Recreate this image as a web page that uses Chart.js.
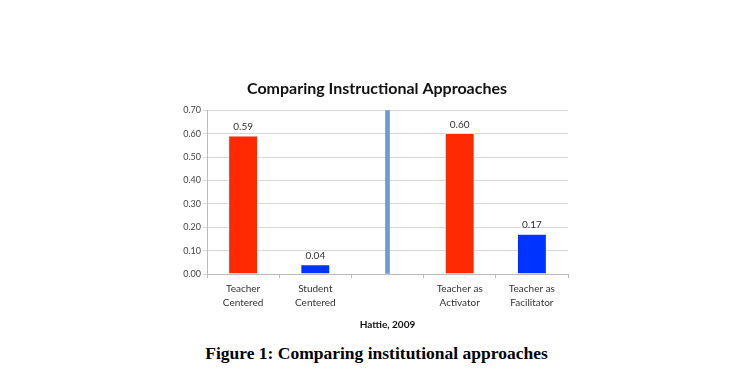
<!DOCTYPE html>
<html>
<head>
<meta charset="utf-8">
<script src="https://cdn.jsdelivr.net/npm/chart.js@4.4.0/dist/chart.umd.min.js"></script>
<style>
  html, body { margin: 0; padding: 0; background: #fff; }
  #wrap { position: absolute; left: 0; top: 0; width: 731px; height: 331px; }
  #caption {
    position: absolute; left: 0; top: 343px; width: 753px; text-align: center;
    font-family: "Liberation Serif", serif; font-weight: bold; font-size: 17.5px; color: #000;
  }
</style>
</head>
<body>
<div id="wrap"><canvas id="approachChart"></canvas></div>
<div id="caption">Figure 1: Comparing institutional approaches</div>
<script>
// categories and values
var categories = [["Teacher", "Centered"], ["Student", "Centered"], "", ["Teacher as", "Activator"], ["Teacher as", "Facilitator"]];
var effectSizes = [0.59, 0.04, null, 0.60, 0.17];
var dividerValues = [null, null, 0.70, null, null];
var barColors = ["#ff2a00", "#0033ff", "#ff2a00", "#ff2a00", "#0033ff"];
var yTicks = [0, 0.1, 0.2, 0.3, 0.4, 0.5, 0.6, 0.7];

// value labels above the bars
var valueLabels = {
    id: 'valueLabels',
    afterDatasetsDraw: function (chart) {
        var ctx = chart.ctx;
        var meta = chart.getDatasetMeta(0);
        ctx.save();
        ctx.font = '10px Lato, sans-serif';
        ctx.fillStyle = '#333';
        ctx.textAlign = 'center';
        ctx.textBaseline = 'bottom';
        meta.data.forEach(function (bar, i) {
            if (effectSizes[i] === null) return;
            ctx.fillText(effectSizes[i].toFixed(2), bar.x, bar.y - 4);
        });
        ctx.restore();
    }
};

var chart = new Chart(document.getElementById('approachChart'), {
    type: 'bar',
    data: {
        labels: categories,
        datasets: [{
            data: effectSizes,
            backgroundColor: barColors,
            borderColor: '#e8e8ff',
            borderWidth: 0.5,
            barPercentage: 0.4,
            categoryPercentage: 1,
            grouped: false
        }, {
            data: dividerValues,
            backgroundColor: '#6b9bd2',
            barThickness: 4,
            grouped: false
        }]
    },
    options: {
        responsive: true,
        maintainAspectRatio: false,
        animation: false,
        layout: { padding: { left: 167, right: 144, top: 0, bottom: 0 } },
        plugins: {
            legend: { display: false },
            tooltip: { enabled: false },
            title: {
                display: true,
                text: 'Comparing Instructional Approaches',
                color: '#111',
                font: { family: 'Lato, sans-serif', size: 16, weight: 'bold' },
                padding: { top: 79, bottom: 12 }
            }
        },
        scales: {
            x: {
                grid: { display: true, drawOnChartArea: false, offset: true, color: '#bbb', tickLength: 4 },
                border: { color: '#bbb' },
                ticks: { color: '#333', font: { family: 'Lato, sans-serif', size: 10, lineHeight: 1.4 }, padding: 4, maxRotation: 0, autoSkip: false },
                title: {
                    display: true, text: 'Hattie, 2009', color: '#111',
                    font: { family: 'Lato, sans-serif', size: 10, weight: 'bold' },
                    padding: { top: 5, bottom: 0 }
                }
            },
            y: {
                min: 0, max: 0.7,
                afterBuildTicks: function (scale) {
                    scale.ticks = yTicks.map(function (v) { return { value: v }; });
                },
                afterFit: function (scale) { scale.width = 40; },
                grid: { color: '#d9d9d9', tickLength: 4 },
                border: { color: '#bbb' },
                ticks: {
                    color: '#444', font: { family: 'Lato, sans-serif', size: 9 }, padding: 2,
                    callback: function (v) { return v.toFixed(2); }
                }
            },
            // empty right-hand spacer so the title sits where it does in the original
            spacer: {
                position: 'right',
                min: 0, max: 0.7,
                afterFit: function (scale) { scale.width = 19; },
                grid: { display: false },
                border: { display: false },
                ticks: { display: false }
            }
        }
    },
    plugins: [valueLabels]
});
</script>
</body>
</html>
